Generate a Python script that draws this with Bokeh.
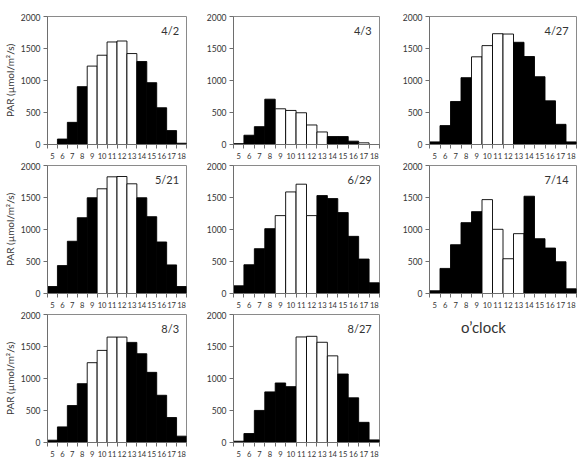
from bokeh.plotting import figure
from bokeh.layouts import column, row
from bokeh.models import FixedTicker, Label, ColumnDataSource, Range1d, Spacer
from bokeh.embed import file_html
from bokeh.resources import INLINE

hours = [5, 6, 7, 8, 9, 10, 11, 12, 13, 14, 15, 16, 17, 18]
dates = ["4/2", "4/3", "4/27", "5/21", "6/29", "7/14", "8/3", "8/27"]

par_0402 = [0, 85, 346, 904, 1225, 1395, 1602, 1617, 1421, 1297, 966, 574, 217, 20]
par_0403 = [15, 145, 279, 708, 558, 532, 496, 305, 196, 124, 124, 52, 26, 0]
par_0427 = [41, 295, 672, 1044, 1370, 1545, 1731, 1726, 1597, 1375, 1059, 682, 315, 41]
par_0521 = [109, 436, 816, 1184, 1496, 1636, 1823, 1828, 1714, 1496, 1200, 805, 447, 109]
par_0629 = [120, 449, 700, 1013, 1217, 1587, 1708, 1217, 1530, 1483, 1264, 893, 538, 167]
par_0714 = [42, 392, 762, 1107, 1279, 1467, 1003, 543, 935, 1520, 856, 710, 496, 73]
par_0803 = [36, 244, 577, 919, 1247, 1439, 1647, 1647, 1564, 1387, 1096, 738, 390, 99]
par_0827 = [20, 140, 501, 791, 930, 873, 1649, 1659, 1566, 1354, 1070, 698, 315, 41]

# 1 = open (white) bar, 0 = filled (black) bar
open_0402 = [0, 0, 0, 0, 1, 1, 1, 1, 1, 0, 0, 0, 0, 0]
open_0403 = [1, 0, 0, 0, 1, 1, 1, 1, 1, 0, 0, 0, 1, 0]
open_0427 = [0, 0, 0, 0, 1, 1, 1, 1, 0, 0, 0, 0, 0, 0]
open_0521 = [0, 0, 0, 0, 0, 1, 1, 1, 1, 0, 0, 0, 0, 0]
open_0629 = [0, 0, 0, 0, 1, 1, 1, 1, 0, 0, 0, 0, 0, 0]
open_0714 = [0, 0, 0, 0, 0, 1, 1, 1, 1, 0, 0, 0, 0, 0]
open_0803 = [0, 0, 0, 0, 1, 1, 1, 1, 0, 0, 0, 0, 0, 0]
open_0827 = [0, 0, 0, 0, 0, 0, 1, 1, 1, 1, 0, 0, 0, 0]

y_ticks = [0, 500, 1000, 1500, 2000]
y_label = "PAR (µmol/m²/s)"
x_title = "o’clock"

series = [par_0402, par_0403, par_0427, par_0521, par_0629, par_0714, par_0803, par_0827]
opens = [open_0402, open_0403, open_0427, open_0521, open_0629, open_0714, open_0803, open_0827]

FONT = "Lato"
AX = "#6e6e6e"
TXT = "#333333"

LEFT = [40, 43, 46]
FW = [146, 146, 147]
RIGHT = [4, 4, 2]


def panel(i):
    col = i % 3
    p = figure(width=LEFT[col] + FW[col] + RIGHT[col], height=149,
               x_range=Range1d(hours[0] - 0.5, hours[-1] + 0.5), y_range=Range1d(0, 2000),
               output_backend="svg", toolbar_location=None,
               min_border_left=LEFT[col], min_border_right=RIGHT[col],
               min_border_top=3, min_border_bottom=18)
    p.xgrid.visible = False
    p.ygrid.visible = False
    p.outline_line_color = "#8a8a8a"
    p.outline_line_width = 1
    colors = ["white" if o else "black" for o in opens[i]]
    src = ColumnDataSource(dict(hour=hours, par=series[i], color=colors))
    p.vbar(x="hour", top="par", width=1, fill_color="color", line_color="black",
           line_width=0.9, source=src)

    xa = p.xaxis[0]
    xa.ticker = FixedTicker(ticks=hours, minor_ticks=[h - 0.5 for h in hours] + [hours[-1] + 0.5])
    xa.major_tick_out = 0
    xa.major_tick_in = 0
    xa.minor_tick_out = 4
    xa.minor_tick_in = 0
    xa.minor_tick_line_color = AX
    xa.axis_line_color = AX
    xa.major_label_standoff = 4
    xa.major_label_text_font = FONT
    xa.major_label_text_font_size = "7.6px"
    xa.major_label_text_color = TXT

    ya = p.yaxis[0]
    ya.ticker = FixedTicker(ticks=y_ticks)
    ya.major_tick_out = 4
    ya.major_tick_in = 0
    ya.major_tick_line_color = AX
    ya.axis_line_color = AX
    ya.major_label_standoff = 3
    ya.major_label_text_font = FONT
    ya.major_label_text_font_size = "8.5px"
    ya.major_label_text_color = TXT
    if col == 0:
        ya.axis_label = y_label
        ya.axis_label_text_font = FONT
        ya.axis_label_text_font_size = "10px"
        ya.axis_label_text_font_style = "normal"
        ya.axis_label_text_color = TXT
        ya.axis_label_standoff = 2

    p.add_layout(Label(x=hours[-1] - 0.25, y=1890, text=dates[i], text_align="right",
                       text_baseline="top", text_font=FONT, text_font_size="11px",
                       text_color=TXT))
    return p


figs = [panel(i) for i in range(8)]

blank = figure(width=195, height=149, x_range=Range1d(0, 195), y_range=Range1d(0, 149),
               output_backend="svg", toolbar_location=None, min_border=0)
blank.axis.visible = False
blank.grid.visible = False
blank.outline_line_color = None
blank.add_layout(Label(x=100, y=134, text=x_title, text_align="center", text_baseline="middle",
                       text_font=FONT, text_font_size="15px", text_color=TXT))
figs.append(blank)

layout = column(Spacer(width=578, height=13),
                row(figs[0], figs[1], figs[2]),
                row(figs[3], figs[4], figs[5]),
                row(figs[6], figs[7], figs[8]))

open("out.html", "w").write(file_html(layout, INLINE))
